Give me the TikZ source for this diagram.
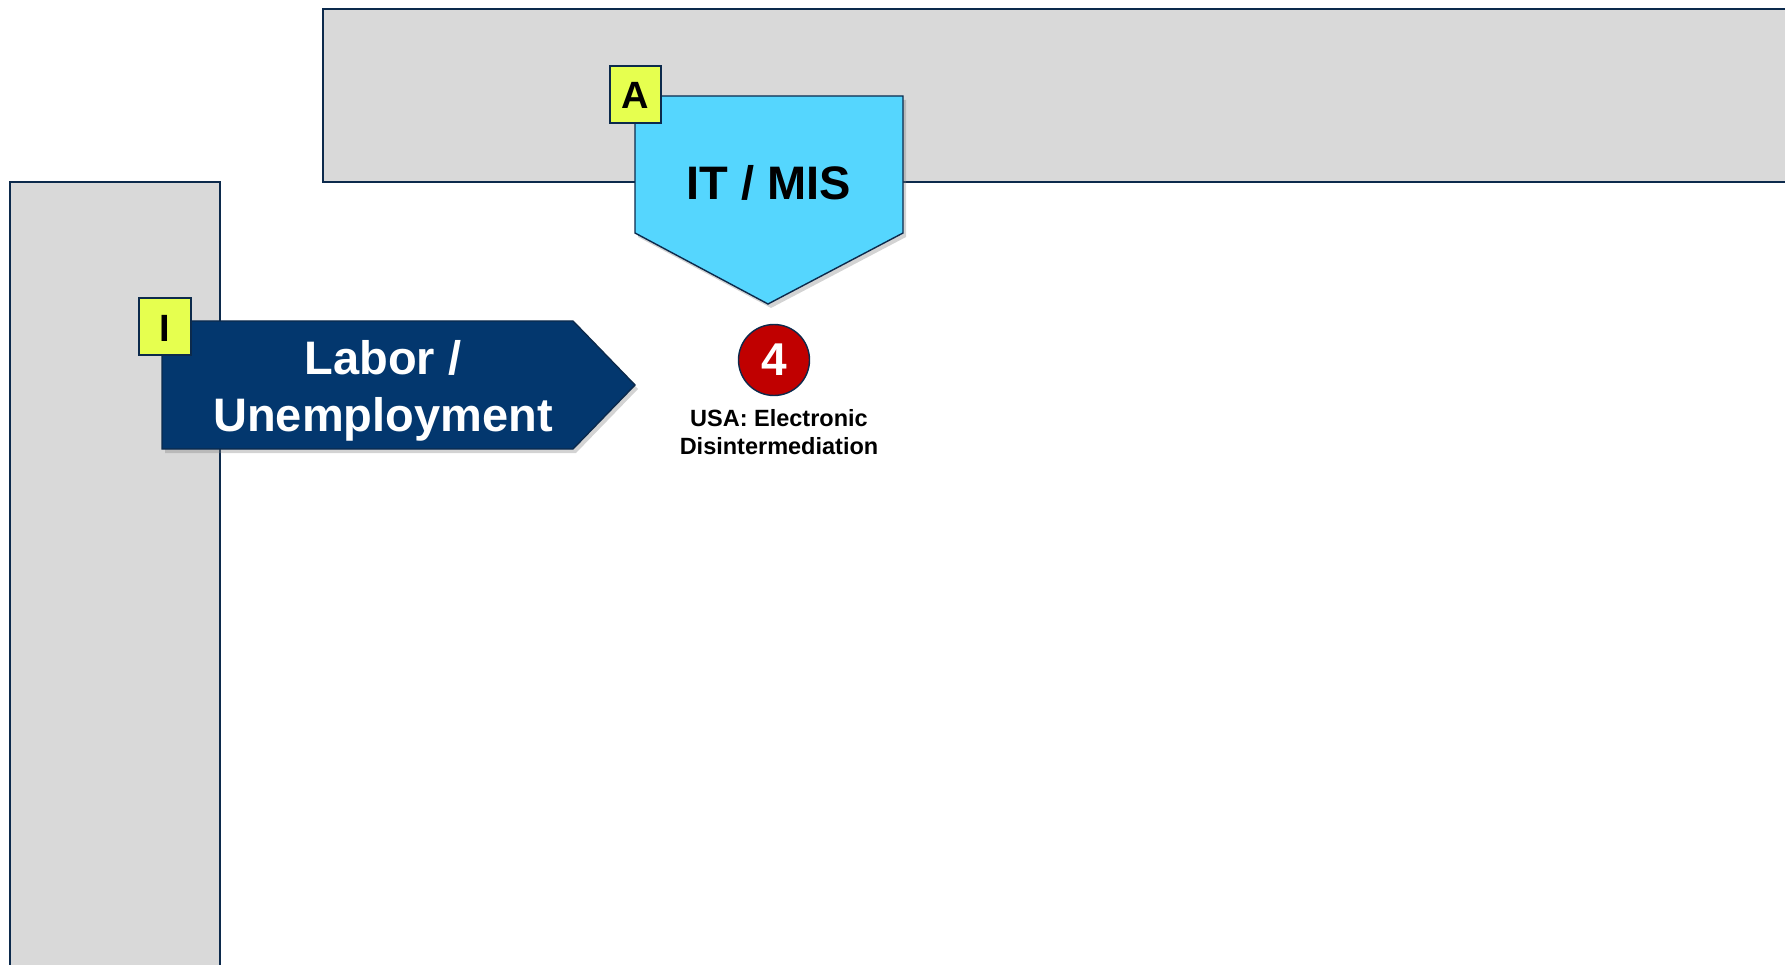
\documentclass[tikz,border=0pt]{standalone}
\usepackage{fontspec}
\setmainfont{Liberation Sans}
\usetikzlibrary{shadows}
\definecolor{navy}{HTML}{0C2A4C}
\definecolor{barfill}{HTML}{D9D9D9}
\definecolor{laborfill}{HTML}{03376E}
\definecolor{itfill}{HTML}{55D6FE}
\definecolor{tagfill}{HTML}{E6FF4F}
\definecolor{redfill}{HTML}{C00000}
\tikzset{
  bar/.style={draw=navy, fill=barfill, line width=1.4pt},
  bigshape/.style={draw=navy, line width=1.4pt, drop shadow={shadow xshift=3pt, shadow yshift=-4pt, opacity=0.35}},
  tag/.style={draw=navy, fill=tagfill, line width=1.4pt},
  tagtext/.style={font=\bfseries\fontsize{38}{40}\selectfont, text=black},
}
\begin{document}
\begin{tikzpicture}[x=1pt, y=-1pt]
\useasboundingbox (0,0) rectangle (1785,965);
% background bars
\path[bar] (323,9) rectangle (1800,182);
\path[bar] (10,182) rectangle (220,1000);
% IT / MIS pentagon
\path[bigshape, fill=itfill] (635,96) -- (903,96) -- (903,233) -- (768,304) -- (635,233) -- cycle;
\node[font=\bfseries\fontsize{47}{50}\selectfont, text=black] (it) at (769,183) {IT / MIS};
% A tag
\path[tag] (610,66) rectangle (661,123);
\node[tagtext] (tagA) at (635.5,95) {A};
% Labor arrow
\path[bigshape, fill=laborfill] (162,321) -- (573,321) -- (635,385) -- (573,449) -- (162,449) -- cycle;
\node[font=\bfseries\fontsize{47}{57}\selectfont, text=white, align=center] (labor) at (383,391) {Labor /\\Unemployment};
% I tag
\path[tag] (139,298) rectangle (191,355);
\node[tagtext] (tagI) at (165,328) {I};
% circle 4
\node[circle, draw=navy, fill=redfill, line width=1.4pt, minimum size=71pt, inner sep=0pt,
      font=\bfseries\fontsize{46}{48}\selectfont, text=white] (four) at (774,360) {4};
\node[font=\bfseries\fontsize{23.5}{28}\selectfont, text=black, align=center] (usa) at (779,432) {USA: Electronic\\Disintermediation};
\end{tikzpicture}
\end{document}
